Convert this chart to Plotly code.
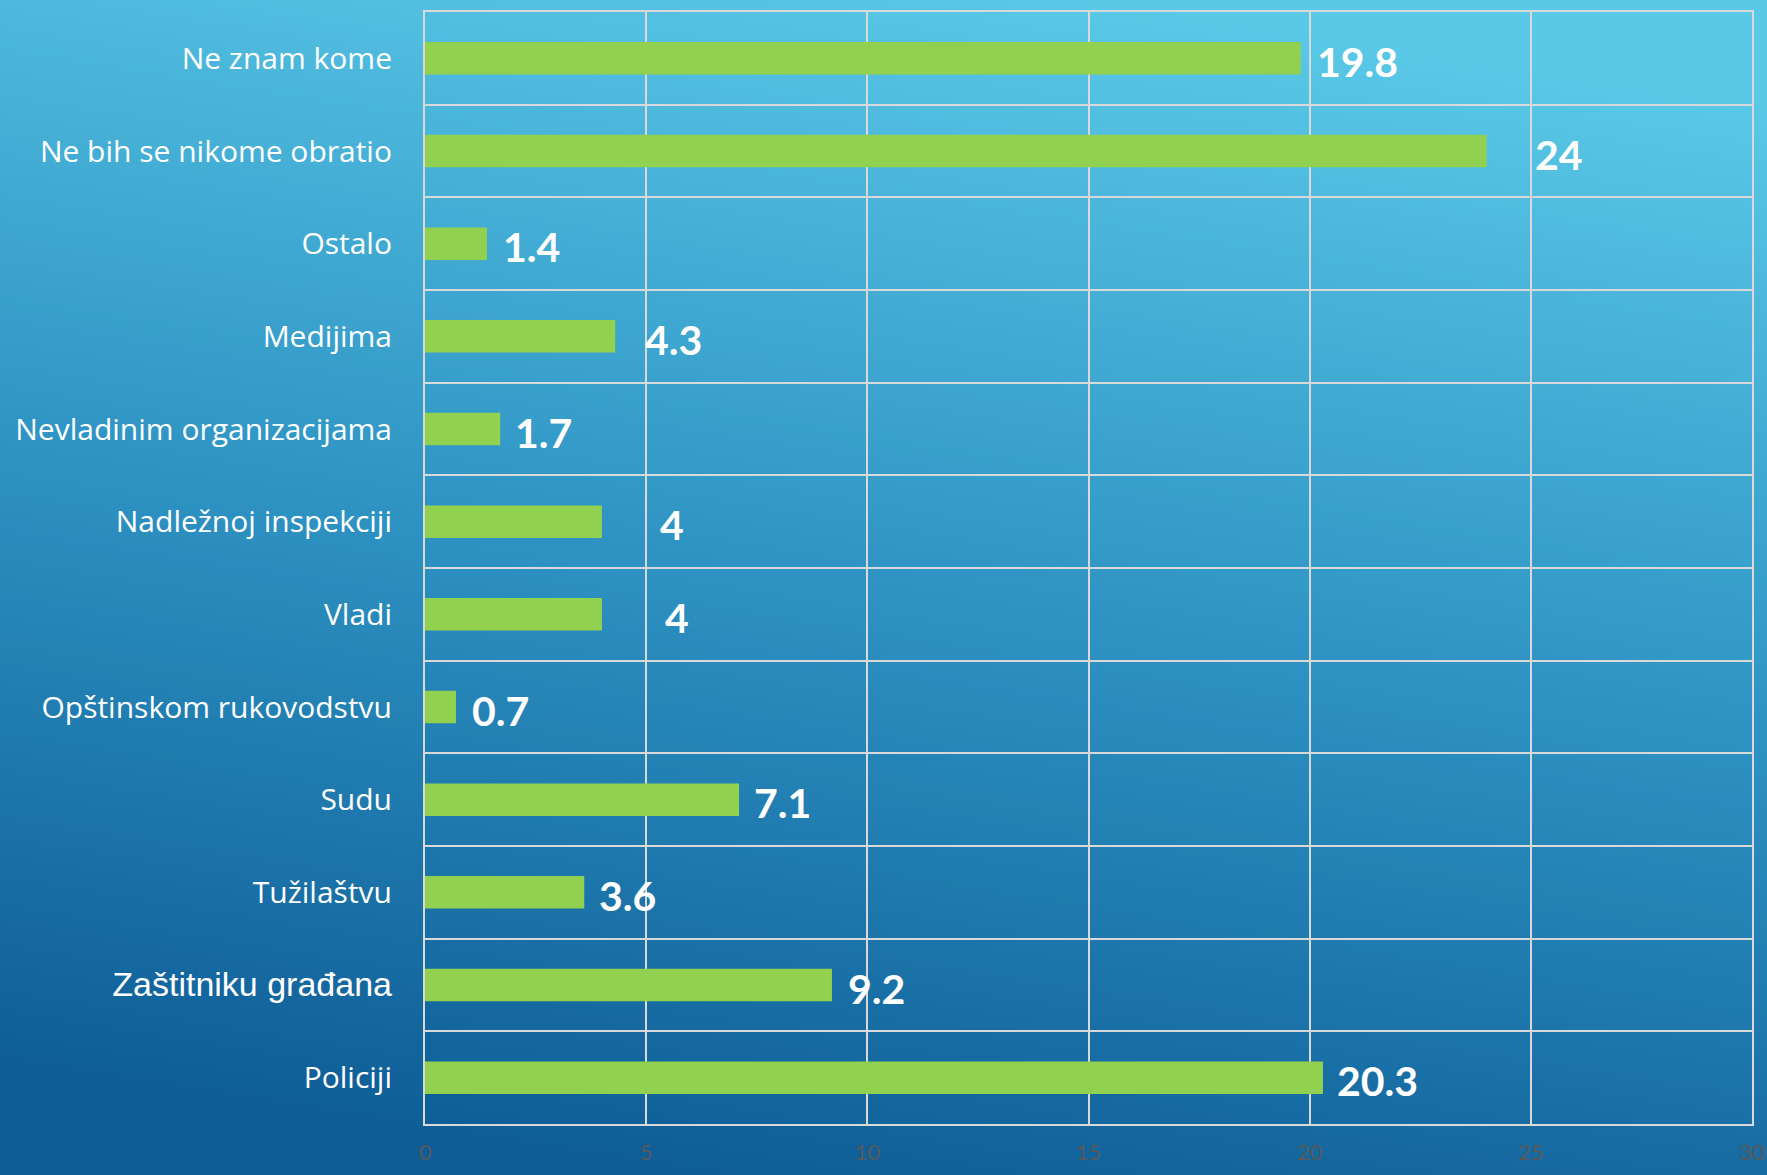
import base64
import plotly.graph_objects as go

categories = ["Policiji", "Zaštitniku građana", "Tužilaštvu", "Sudu",
              "Opštinskom rukovodstvu", "Vladi", "Nadležnoj inspekciji",
              "Nevladinim organizacijama", "Medijima", "Ostalo",
              "Ne bih se nikome obratio", "Ne znam kome"]
values = [20.3, 9.2, 3.6, 7.1, 0.7, 4, 4, 1.7, 4.3, 1.4, 24, 19.8]
value_labels = ["20.3", "9.2", "3.6", "7.1", "0.7", "4", "4", "1.7", "4.3", "1.4", "24", "19.8"]
x_ticks = [0, 5, 10, 15, 20, 25, 30]

# label offsets (px) from bar end, as in the original
label_shift = [14, 16, 15, 15, 16, 63, 58, 15, 30, 16, 48, 16]

W, H = 1767, 1175
L, R, T, B = 425, 15, 12, 51

svg = f'''<svg xmlns="http://www.w3.org/2000/svg" width="{W}" height="{H}" preserveAspectRatio="none">
<defs><linearGradient id="g" x1="0.62" y1="0" x2="0.38" y2="1">
<stop offset="0" stop-color="#5AC8E7"/>
<stop offset="0.5" stop-color="#2E93C3"/>
<stop offset="1" stop-color="#0E5D96"/>
</linearGradient></defs>
<rect width="{W}" height="{H}" fill="url(#g)"/></svg>'''
src = "data:image/svg+xml;base64," + base64.b64encode(svg.encode()).decode()

ticktext = [c if c != "Zaštitniku građana" else
            '<span style="font-family:Liberation Sans, Arial;font-size:34px">Zaštitniku građana</span>'
            for c in categories]

fig = go.Figure()
fig.add_trace(go.Bar(
    y=categories, x=values, orientation="h", width=0.35,
    marker=dict(color="#92D050", line=dict(width=0)),
    hoverinfo="skip",
))

for c, v, t, s in zip(categories, values, value_labels, label_shift):
    fig.add_annotation(x=v, y=c, text=t, showarrow=False, xanchor="left",
                       xshift=s - 2, yshift=-3,
                       font=dict(family="Lato", size=41, color="white", weight="bold"))

pw, ph = W - L - R, H - T - B
fig.add_layout_image(dict(source=src, xref="paper", yref="paper",
                          x=-L / pw, y=1 + T / ph, sizex=W / pw, sizey=H / ph,
                          xanchor="left", yanchor="top", sizing="stretch",
                          layer="below"))

fig.update_layout(
    width=W, height=H,
    margin=dict(l=L, r=R, t=T, b=B, pad=0, autoexpand=False),
    paper_bgcolor="rgba(0,0,0,0)", plot_bgcolor="rgba(0,0,0,0)",
    showlegend=False,
    xaxis=dict(range=[0, 30], tickvals=x_ticks, showgrid=True, automargin=False,
               gridcolor="#D9D9D9", gridwidth=2, zeroline=False,
               showline=True, linecolor="#D9D9D9", linewidth=2, mirror=True,
               tickfont=dict(family="Lato", size=22, color="#595959"),
               ticks="", ticklabelstandoff=8),
    yaxis=dict(type="category", categoryorder="array", categoryarray=categories,
               tickvals=categories, ticktext=ticktext, automargin=False,
               tickson="boundaries", showgrid=True, gridcolor="#D9D9D9", gridwidth=2,
               showline=True, linecolor="#D9D9D9", linewidth=2, mirror=True,
               zeroline=False,
               tickfont=dict(family="Open Sans", size=30, color="white"),
               ticks="", ticklabelstandoff=25),
)

fig.write_html("out.html", config={"displayModeBar": False},
               post_script="document.body.style.margin='0';document.body.style.overflow='hidden';")
